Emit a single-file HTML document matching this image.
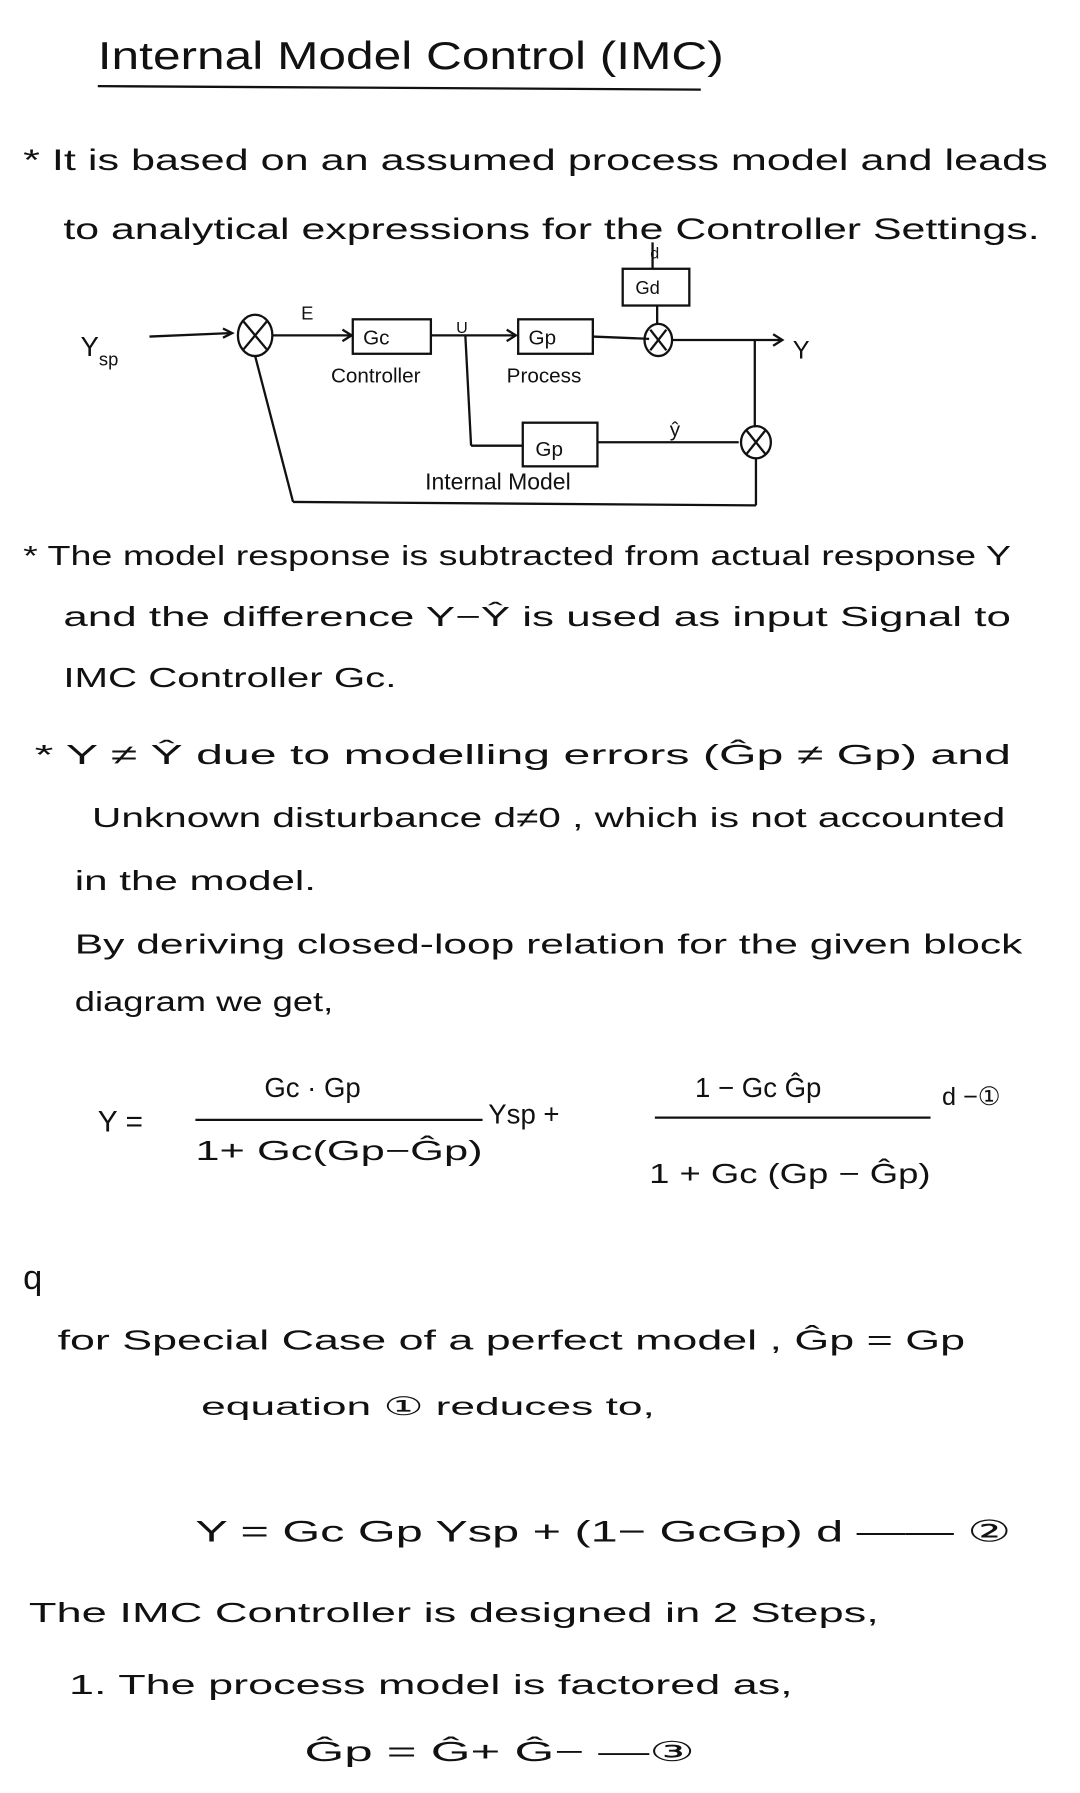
<!DOCTYPE html>
<html><head><meta charset="utf-8"><style>
html,body{margin:0;padding:0;background:#fff;}
svg{display:block;}
text{font-family:"Liberation Sans",sans-serif;fill:#111;}
</style></head><body>
<svg width="1080" height="1793" viewBox="0 0 940 1561" xmlns="http://www.w3.org/2000/svg">
<rect width="940" height="1561" fill="#fff"/>
<g stroke="#111" stroke-width="2" fill="none">
<line x1="85" y1="75" x2="610" y2="78"/>
<line x1="130" y1="293" x2="200" y2="290"/>
<polyline points="194,286 202,290 194,294"/>
<ellipse cx="222" cy="292" rx="15" ry="18"/>
<line x1="212" y1="280" x2="232" y2="304"/><line x1="232" y1="280" x2="212" y2="304"/>
<line x1="237" y1="292" x2="305" y2="292"/><polyline points="298,287 306,292 298,297"/>
<rect x="307" y="278" width="68" height="30"/>
<line x1="375" y1="292" x2="448" y2="292"/><polyline points="441,287 449,292 441,297"/>
<rect x="451" y="278" width="65" height="30"/>
<line x1="516" y1="293" x2="565" y2="295"/>
<ellipse cx="573" cy="296" rx="12" ry="14"/>
<line x1="566" y1="287" x2="580" y2="305"/><line x1="580" y1="287" x2="566" y2="305"/>
<rect x="542" y="234" width="58" height="32"/>
<line x1="568" y1="211" x2="568" y2="234"/><line x1="572" y1="266" x2="572" y2="282"/>
<line x1="585" y1="296" x2="680" y2="296"/><polyline points="673,291 681,296 673,301"/>
<line x1="657" y1="296" x2="657" y2="372"/>
<ellipse cx="658" cy="385" rx="13" ry="14"/>
<line x1="650" y1="375" x2="666" y2="395"/><line x1="666" y1="375" x2="650" y2="395"/>
<line x1="405" y1="292" x2="410" y2="388"/><line x1="410" y1="388" x2="455" y2="388"/>
<rect x="455" y="368" width="65" height="38"/>
<line x1="520" y1="385" x2="643" y2="385"/>
<line x1="658" y1="399" x2="658" y2="440"/>
<line x1="658" y1="440" x2="255" y2="437"/><line x1="255" y1="437" x2="222" y2="310"/>
</g>
<g font-size="26" lengthAdjust="spacingAndGlyphs">
<text x="85" y="60" font-size="34" textLength="545" lengthAdjust="spacingAndGlyphs">Internal Model Control (IMC)</text>
<text x="20" y="148" textLength="892" lengthAdjust="spacingAndGlyphs">* It is based on an assumed process model and leads</text>
<text x="55" y="208" textLength="850" lengthAdjust="spacingAndGlyphs">to analytical expressions for the Controller Settings.</text>
<text x="70" y="310" font-size="24">Y<tspan font-size="16" dy="8">sp</tspan></text>
<text x="262" y="278" font-size="16">E</text>
<text x="316" y="300" font-size="18">Gc</text>
<text x="397" y="290" font-size="14">U</text>
<text x="460" y="300" font-size="18">Gp</text>
<text x="553" y="256" font-size="16">Gd</text>
<text x="566" y="225" font-size="14">d</text>
<text x="690" y="312" font-size="22">Y</text>
<text x="288" y="333" font-size="18">Controller</text>
<text x="441" y="333" font-size="18">Process</text>
<text x="466" y="397" font-size="18">Gp</text>
<text x="583" y="380" font-size="18">ŷ</text>
<text x="370" y="426" font-size="20">Internal Model</text>
<text x="20" y="492" font-size="24" textLength="860" lengthAdjust="spacingAndGlyphs">* The model response is subtracted from actual response Y</text>
<text x="55" y="545" font-size="24" textLength="825" lengthAdjust="spacingAndGlyphs">and the difference Y−Ŷ is used as input Signal to</text>
<text x="55" y="598" font-size="24" textLength="290" lengthAdjust="spacingAndGlyphs">IMC Controller Gc.</text>
<text x="30" y="665" font-size="24" textLength="850" lengthAdjust="spacingAndGlyphs">* Y ≠ Ŷ due to modelling errors (Ĝp ≠ Gp) and</text>
<text x="80" y="720" font-size="24" textLength="795" lengthAdjust="spacingAndGlyphs">Unknown disturbance d≠0 , which is not accounted</text>
<text x="65" y="775" font-size="24" textLength="210" lengthAdjust="spacingAndGlyphs">in the model.</text>
<text x="65" y="830" font-size="24" textLength="825" lengthAdjust="spacingAndGlyphs">By deriving closed-loop relation for the given block</text>
<text x="65" y="880" font-size="24" textLength="225" lengthAdjust="spacingAndGlyphs">diagram we get,</text>
<text x="230" y="955" font-size="24">Gc · Gp</text>
<text x="85" y="985" font-size="26">Y =</text>
<line x1="170" y1="975" x2="420" y2="975" stroke="#111" stroke-width="2"/>
<text x="170" y="1010" font-size="24" textLength="250" lengthAdjust="spacingAndGlyphs">1+ Gc(Gp−Ĝp)</text>
<text x="425" y="978" font-size="24">Ysp  +</text>
<text x="605" y="955" font-size="24">1 − Gc Ĝp</text>
<line x1="570" y1="973" x2="810" y2="973" stroke="#111" stroke-width="2"/>
<text x="820" y="962" font-size="22">d  −①</text>
<text x="565" y="1030" font-size="24" textLength="245" lengthAdjust="spacingAndGlyphs">1 + Gc (Gp − Ĝp)</text>
<text x="20" y="1122" font-size="30">q</text>
<text x="50" y="1175" font-size="24" textLength="790" lengthAdjust="spacingAndGlyphs">for Special Case of a perfect model , Ĝp = Gp</text>
<text x="175" y="1232" font-size="22" textLength="395" lengthAdjust="spacingAndGlyphs">equation ① reduces to,</text>
<text x="170" y="1342" font-size="26" textLength="710" lengthAdjust="spacingAndGlyphs">Y = Gc Gp Ysp + (1− GcGp) d  —— ②</text>
<text x="25" y="1412" font-size="24" textLength="740" lengthAdjust="spacingAndGlyphs">The IMC Controller is designed in 2 Steps,</text>
<text x="60" y="1475" font-size="24" textLength="630" lengthAdjust="spacingAndGlyphs">1. The process model is factored as,</text>
<text x="265" y="1533" font-size="24" textLength="340" lengthAdjust="spacingAndGlyphs">Ĝp = Ĝ+ Ĝ−   —③</text>
</g>
</svg>
</body></html>
